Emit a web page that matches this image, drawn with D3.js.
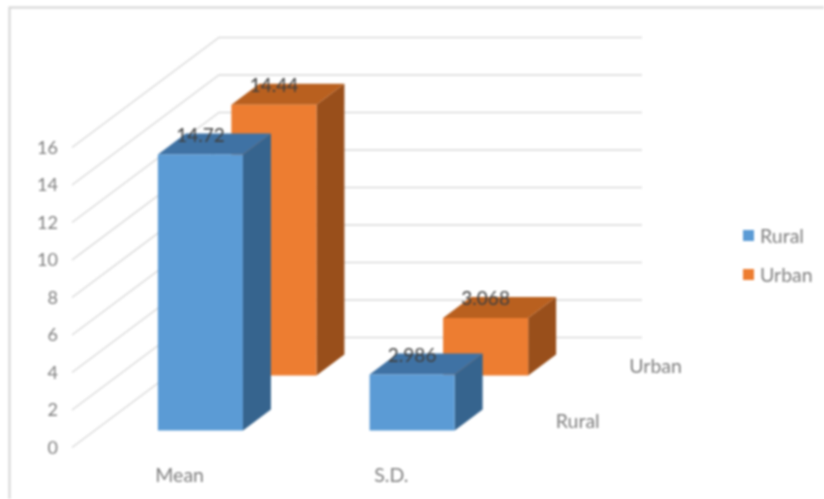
<!DOCTYPE html>
<html><head><meta charset="utf-8">
<script src="https://cdnjs.cloudflare.com/ajax/libs/d3/7.8.5/d3.min.js"></script>
<style>html,body{margin:0;padding:0;background:#fff}svg{display:block;filter:blur(0.8px)}text{font-family:Lato,"Open Sans",sans-serif}</style>
</head><body><svg id="c" width="824" height="499"></svg>
<script>
const categories = ["Mean", "S.D."];
const series = ["Rural", "Urban"];
const ruralValues = [14.72, 2.986];
const urbanValues = [14.44, 3.068];
const yTicks = [0, 2, 4, 6, 8, 10, 12, 14, 16];
const faceColors = {Rural: "#5b9bd5", Urban: "#ed7d31"};
const topColors = {Rural: "#3f72a4", Urban: "#b9601f"};
const sideColors = {Rural: "#36648e", Urban: "#994f1b"};
const valuesBySeries = {Rural: ruralValues, Urban: urbanValues};

const svg = d3.select("#c");
const ox = 72, oy = 447.5, depthX = 147, depthY = 110;
const yScale = d3.scaleLinear().domain([0, 16]).range([0, 300]);
const xScale = d3.scaleBand().domain(categories).range([0, 423]).paddingInner(0.598).paddingOuter(0.298);
const zScale = d3.scaleBand().domain(series).range([0, 1]).paddingInner(0.62).paddingOuter(0.31);
const project = (x, v, z) => [ox + x + z * depthX, oy - yScale(v) - z * depthY];
const poly = pts => pts.map(p => p.join(",")).join(" ");

// frame
svg.append("path").attr("d", "M9.5,499V7.5H824").attr("fill", "none").attr("stroke", "#d4d4d4").attr("stroke-width", 2);

// gridlines: side wall + back wall
const grid = svg.append("g").attr("fill", "none").attr("stroke", "#d9d9d9").attr("stroke-width", 1.5);
yTicks.forEach(t => {
  grid.append("polyline").attr("points", poly([project(0, t, 0), project(0, t, 1), project(423, t, 1)]));
});

// axis labels
const yAxisScale = d3.scaleLinear().domain([0, 16]).range([oy, oy - 300]);
const axis = svg.append("g").attr("transform", `translate(${ox - 14},0)`)
  .call(d3.axisLeft(yAxisScale).tickValues(yTicks).tickSize(0).tickPadding(0).tickFormat(d3.format("d")));
axis.select(".domain").remove();
axis.selectAll("text").attr("font-size", 18).attr("fill", "#7f7f7f").style("font-family", "Lato");

// bars, back row first
[...series].reverse().forEach(s => {
  const g = svg.append("g");
  categories.forEach((c, i) => {
    const v = valuesBySeries[s][i];
    const x0 = xScale(c), x1 = x0 + xScale.bandwidth();
    const z0 = zScale(s), z1 = z0 + zScale.bandwidth();
    g.append("polygon").attr("fill", sideColors[s]).attr("points", poly([project(x1, 0, z0), project(x1, 0, z1), project(x1, v, z1), project(x1, v, z0)]));
    g.append("polygon").attr("fill", topColors[s]).attr("points", poly([project(x0, v, z0), project(x1, v, z0), project(x1, v, z1), project(x0, v, z1)]));
    g.append("polygon").attr("fill", faceColors[s]).attr("points", poly([project(x0, 0, z0), project(x1, 0, z0), project(x1, v, z0), project(x0, v, z0)]));
    const tp = project((x0 + x1) / 2, v, z0);
    g.append("text").attr("x", tp[0]).attr("y", tp[1] - 20).attr("text-anchor", "middle").attr("dominant-baseline", "central")
      .attr("font-size", 19).attr("fill", "#404040").text(v);
  });
});

// category labels
categories.forEach(c => {
  svg.append("text").attr("x", ox + xScale(c) + xScale.bandwidth() / 2 + 2).attr("y", 474).attr("text-anchor", "middle").attr("dominant-baseline", "central")
    .attr("font-size", 19.5).attr("fill", "#7f7f7f").text(c);
});
// depth labels
series.forEach(s => {
  const p = project(423, 0, zScale(s) + zScale.bandwidth() / 2);
  svg.append("text").attr("x", p[0] + 24).attr("y", p[1]).attr("dominant-baseline", "central")
    .attr("font-size", 19.5).attr("fill", "#7f7f7f").text(s);
});
// legend
const legend = d3.scaleBand().domain(series).range([216, 294]);
series.forEach(s => {
  const cy = legend(s) + legend.bandwidth() / 2;
  svg.append("rect").attr("x", 743).attr("y", cy - 5.5).attr("width", 11).attr("height", 11).attr("fill", faceColors[s]);
  svg.append("text").attr("x", 760).attr("y", cy).attr("dominant-baseline", "central")
    .attr("font-size", 19.5).attr("fill", "#7f7f7f").text(s);
});
</script></body></html>
